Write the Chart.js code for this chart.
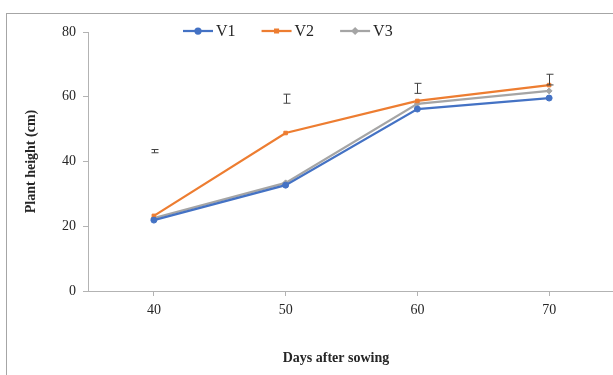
<!DOCTYPE html>
<html>
<head>
<meta charset="utf-8">
<script src="https://cdn.jsdelivr.net/npm/chart.js@4/dist/chart.umd.min.js"></script>
<style>
    body { margin: 0; overflow: hidden; background: #fff; }
    #frame {
        position: absolute; left: 6px; top: 13px; width: 700px; height: 400px;
        border-top: 1px solid #a6a6a6; border-left: 1px solid #a6a6a6;
    }
    #plantChart { position: absolute; left: 0; top: 0; }
</style>
</head>
<body>
<div id="frame"></div>
<canvas id="plantChart" width="620" height="375"></canvas>
<script>
const days = ['40', '50', '60', '70']
const v1 = [21.9, 32.7, 56.2, 59.6]
const v2 = [23.2, 48.8, 58.7, 63.6]
const v3 = [22.5, 33.4, 57.8, 61.8]
// LSD bars drawn above the lines
const errCenter = [43.2, 59.4, 62.6, 65.3]
const errHalf = [0.5, 1.4, 1.55, 1.65]

const serif = "'Liberation Serif', 'Times New Roman', serif"
const textColor = '#262626'
const axisColor = '#b3b3b3'

const series = [
    { label: 'V1', data: v1, color: '#4472c4', point: 'circle', radius: 3 },
    { label: 'V2', data: v2, color: '#ed7d31', point: 'rect', radius: 2.5 },
    { label: 'V3', data: v3, color: '#a5a5a5', point: 'rectRot', radius: 3 },
]

const extras = {
    id: 'extras',
    afterDatasetsDraw(chart) {
        const ctx = chart.ctx
        const x = chart.scales.x
        const y = chart.scales.y
        ctx.save()

        // error bars
        ctx.strokeStyle = '#404040'
        ctx.lineWidth = 1
        errCenter.forEach((c, i) => {
            const px = Math.round(x.getPixelForValue(i)) + 0.5
            const top = y.getPixelForValue(c + errHalf[i])
            const bot = y.getPixelForValue(c - errHalf[i])
            ctx.beginPath()
            ctx.moveTo(px, top)
            ctx.lineTo(px, bot)
            ctx.moveTo(px - 3, top)
            ctx.lineTo(px + 4, top)
            ctx.moveTo(px - 3, bot)
            ctx.lineTo(px + 4, bot)
            ctx.stroke()
        })

        // legend
        ctx.font = '16px ' + serif
        ctx.textBaseline = 'middle'
        let lx = 183
        const ly = 31
        chart.data.datasets.forEach((ds) => {
            ctx.strokeStyle = ds.borderColor
            ctx.lineWidth = 2.25
            ctx.beginPath()
            ctx.moveTo(lx, ly)
            ctx.lineTo(lx + 30, ly)
            ctx.stroke()
            Chart.helpers.drawPoint(ctx, {
                pointStyle: ds.pointStyle,
                radius: ds.pointRadius - 0.5,
                borderWidth: 1,
            }, lx + 15, ly)
            ctx.fillStyle = ds.borderColor
            ctx.fill()
            ctx.fillStyle = textColor
            ctx.fillText(ds.label, lx + 33, ly + 1)
            lx += 33 + ctx.measureText(ds.label).width + 26
        })

        // x axis title
        ctx.font = 'bold 14px ' + serif
        ctx.textAlign = 'center'
        ctx.fillText('Days after sowing', 336, 358)
        ctx.restore()
    },
}

new Chart(document.getElementById('plantChart'), {
    type: 'line',
    data: {
        labels: days,
        datasets: series.map((s) => ({
            label: s.label,
            data: s.data,
            borderColor: s.color,
            backgroundColor: s.color,
            borderWidth: 2.25,
            pointStyle: s.point,
            pointRadius: s.radius,
            pointBorderWidth: 1,
            tension: 0,
        })),
    },
    options: {
        responsive: false,
        animation: false,
        layout: { padding: { left: 0, top: 32, right: 4, bottom: 0 } },
        plugins: {
            legend: { display: false },
            tooltip: { enabled: false },
        },
        scales: {
            x: {
                offset: true,
                afterFit: (scale) => { scale.height = 84 },
                border: { color: axisColor, width: 1 },
                grid: { offset: false, drawOnChartArea: false, drawTicks: true, tickLength: 5, color: axisColor },
                ticks: { color: textColor, padding: 6, font: { family: serif, size: 14 } },
            },
            y: {
                min: 0,
                max: 80,
                afterFit: (scale) => { scale.width = 88 },
                border: { color: axisColor, width: 1 },
                grid: { drawOnChartArea: false, drawTicks: true, tickLength: 5, color: axisColor },
                ticks: { stepSize: 20, color: textColor, padding: 7, font: { family: serif, size: 14 } },
                title: {
                    display: true,
                    text: 'Plant height (cm)',
                    color: textColor,
                    padding: { top: 23 },
                    font: { family: serif, size: 14, weight: 'bold' },
                },
            },
        },
    },
    plugins: [extras],
})
</script>
</body>
</html>
